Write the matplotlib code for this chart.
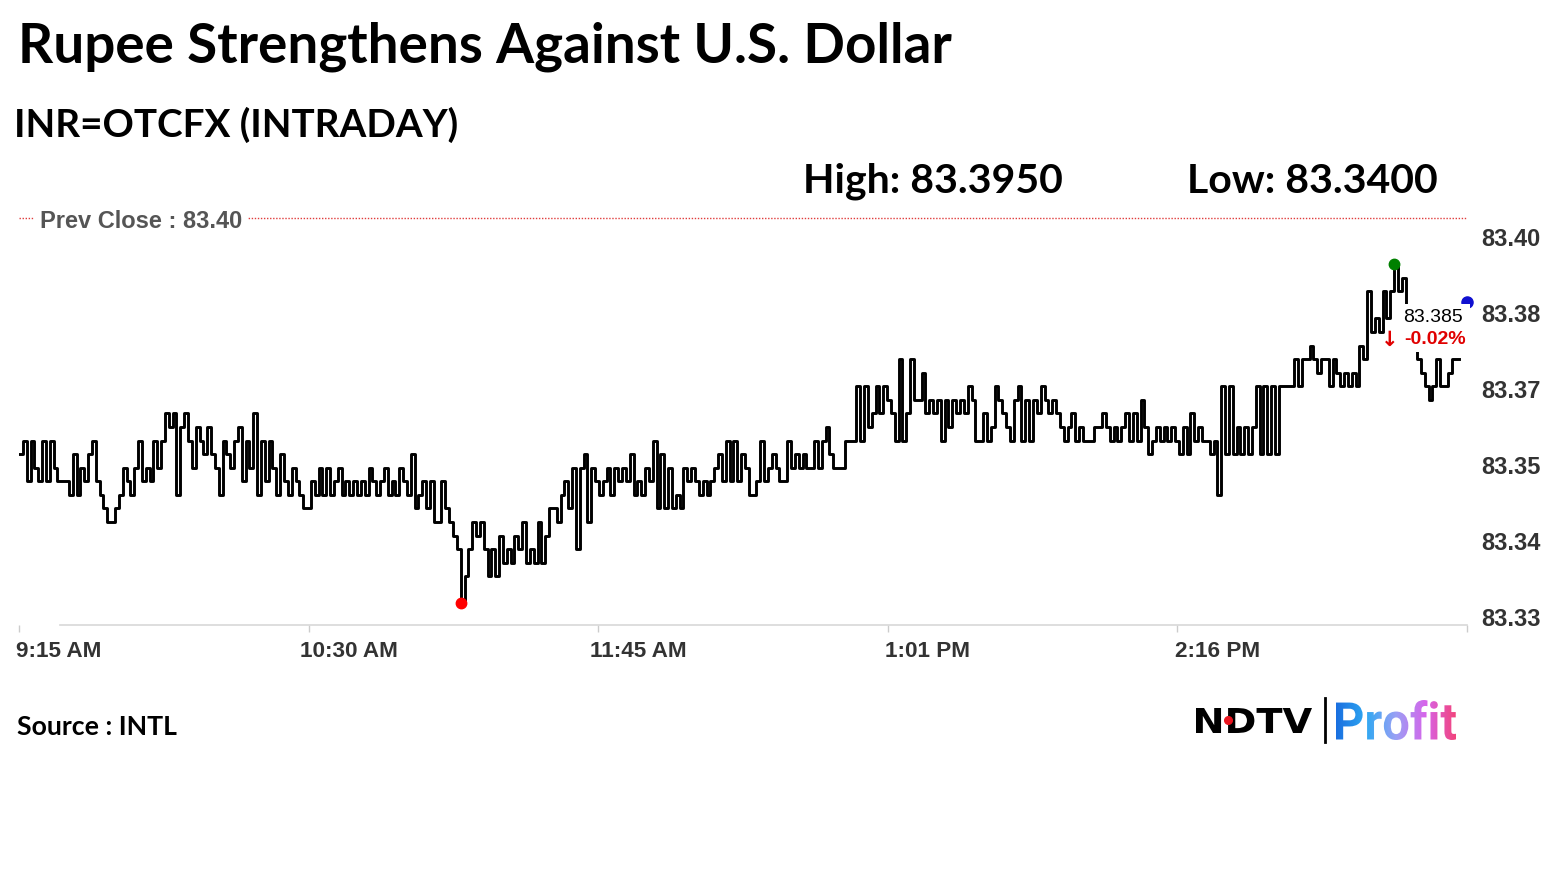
import numpy as np
import matplotlib
matplotlib.use("Agg")
import matplotlib.pyplot as plt
from matplotlib.font_manager import FontProperties
from matplotlib.textpath import TextPath
from matplotlib.patches import PathPatch, Rectangle
from matplotlib.transforms import Affine2D, ScaledTranslation
from matplotlib.colors import LinearSegmentedColormap

# ---- chart data -------------------------------------------------------------
title = "Rupee Strengthens Against U.S. Dollar"
subtitle = "INR=OTCFX (INTRADAY)"
day_high = "83.3950"
day_low = "83.3400"
prev_close = "83.40"
last_price = "83.385"
change_pct = "-0.02%"
source = "Source : INTL"

x_tick_minutes = [0, 75.4, 150.8, 226.2, 301.6, 377]
x_tick_labels = ["9:15 AM", "10:30 AM", "11:45 AM", "1:01 PM", "2:16 PM", ""]
y_ticks = [83.33, 83.344, 83.358, 83.372, 83.386, 83.40]
y_tick_labels = ["83.33", "83.34", "83.35", "83.37", "83.38", "83.40"]

# INR per USD, one reading per minute from 9:15 AM
price = [
    83.36, 83.3625, 83.355, 83.3625, 83.3575, 83.355, 83.3625, 83.355, 83.3625, 83.3575,
    83.355, 83.355, 83.355, 83.3525, 83.36, 83.3525, 83.3575, 83.355, 83.36, 83.3625,
    83.355, 83.3525, 83.35, 83.3475, 83.3475, 83.35, 83.3525, 83.3575, 83.355, 83.3525,
    83.3575, 83.3625, 83.355, 83.3575, 83.355, 83.3625, 83.3575, 83.3625, 83.3675, 83.365,
    83.3675, 83.3525, 83.365, 83.3675, 83.3625, 83.3575, 83.365, 83.3625, 83.36, 83.365,
    83.36, 83.3575, 83.3525, 83.3625, 83.36, 83.3575, 83.3625, 83.365, 83.355, 83.3625,
    83.3575, 83.3675, 83.3525, 83.3625, 83.355, 83.3625, 83.3575, 83.3525, 83.36, 83.355,
    83.3525, 83.3575, 83.355, 83.3525, 83.35, 83.35,
    83.355, 83.3525, 83.3575, 83.3525,
    83.3575, 83.3525, 83.355, 83.3575, 83.3525, 83.355, 83.3525, 83.355, 83.3525, 83.355,
    83.3525, 83.3575, 83.355, 83.3525, 83.355, 83.3575, 83.3525, 83.355, 83.3525, 83.3575,
    83.355, 83.3525, 83.36, 83.35, 83.3525, 83.355, 83.35, 83.355, 83.3475, 83.3475,
    83.355, 83.35, 83.3475, 83.345, 83.3425, 83.3325, 83.3375, 83.3425, 83.3475, 83.345,
    83.3475, 83.3425, 83.3375, 83.3425, 83.3375, 83.345, 83.34, 83.3425, 83.34, 83.345,
    83.3425, 83.3475, 83.34, 83.3425, 83.34, 83.3475, 83.34, 83.345, 83.35, 83.35,
    83.3475, 83.3525, 83.355, 83.35, 83.3575, 83.3425, 83.3575, 83.36, 83.3475, 83.3575, 83.355,
    83.3525, 83.355, 83.3575, 83.3525, 83.3575, 83.355, 83.3575, 83.355, 83.36,
    83.3525, 83.355, 83.3525, 83.3575, 83.355, 83.3625, 83.35, 83.36, 83.35, 83.3575,
    83.35, 83.3525, 83.35, 83.3575, 83.355, 83.3575, 83.355, 83.3525, 83.355, 83.3525,
    83.355, 83.3575, 83.36, 83.355, 83.3625, 83.355, 83.3625, 83.355, 83.36, 83.3575,
    83.3525, 83.3525, 83.355, 83.3625, 83.355, 83.3575, 83.36, 83.3575, 83.355, 83.355,
    83.3625, 83.3575, 83.36, 83.3575, 83.36, 83.3575, 83.3575, 83.3625, 83.3575, 83.3625,
    83.365, 83.36, 83.3575, 83.3575, 83.3575, 83.3625, 83.3625, 83.3625, 83.3725, 83.3625,
    83.3725, 83.365, 83.3675, 83.3725, 83.3675, 83.3725, 83.37,
    83.3675, 83.3625, 83.3775,
    83.3625, 83.3675, 83.3775, 83.37, 83.37, 83.375, 83.3675, 83.37, 83.3675, 83.37,
    83.3625, 83.37, 83.365, 83.37, 83.3675, 83.37, 83.3675, 83.3725, 83.37, 83.3625,
    83.3625, 83.3675, 83.3625, 83.365, 83.3725, 83.37, 83.3675, 83.365, 83.3625, 83.37,
    83.3725, 83.3625, 83.37, 83.3625, 83.37, 83.3675, 83.3725, 83.37, 83.3675, 83.37,
    83.3675, 83.365, 83.3625, 83.365, 83.3675, 83.3625, 83.365, 83.3625, 83.3625, 83.3625,
    83.365, 83.365, 83.3675, 83.365, 83.3625, 83.365, 83.3625, 83.365, 83.3675, 83.3625,
    83.3675, 83.3625, 83.37, 83.365, 83.36, 83.3625, 83.365, 83.3625, 83.365, 83.3625,
    83.365, 83.3625, 83.36,
    83.365, 83.36, 83.3675, 83.3625, 83.365, 83.3625, 83.3625,
    83.36, 83.3625, 83.3525, 83.3725, 83.36, 83.3725, 83.36, 83.365, 83.36, 83.365,
    83.36, 83.365, 83.3725, 83.36, 83.3725, 83.36, 83.3725, 83.36, 83.3725, 83.3725,
    83.3725, 83.3725, 83.3775, 83.3725, 83.3775, 83.3775, 83.38, 83.3775, 83.375, 83.3775,
    83.3775, 83.3725, 83.3775, 83.375, 83.3725, 83.375, 83.3725, 83.375, 83.3725, 83.38,
    83.3775, 83.39, 83.3825, 83.385, 83.3825, 83.39, 83.385, 83.39, 83.395, 83.39,
    83.3925, 83.3875, 83.3875, 83.38, 83.3775, 83.375, 83.3725, 83.37, 83.3725, 83.3775,
    83.3725, 83.3725, 83.375, 83.3775, 83.3775, 83.3775,
]
live_minute = 377
live_price = 83.388

# ---- figure -----------------------------------------------------------------
W, H = 1555, 874
fig = plt.figure(figsize=(W / 100, H / 100), dpi=100)
fig.patch.set_facecolor("white")

head = ["Lato", "DejaVu Sans"]
tick_font = ["Liberation Sans", "DejaVu Sans"]

fig.text(18 / W, 1 - 62 / H, title, fontsize=39.4, fontweight="bold", family=head, va="baseline")
fig.text(14 / W, 1 - 137 / H, subtitle, fontsize=27.8, fontweight="bold", family=head, va="baseline")
fig.text(803 / W, 1 - 193 / H, f"High: {day_high}", fontsize=29.5, fontweight="bold", family=head, va="baseline")
fig.text(1187 / W, 1 - 193 / H, f"Low: {day_low}", fontsize=29.5, fontweight="bold", family=head, va="baseline")
fig.text(17 / W, 1 - 735 / H, source, fontsize=19.2, fontweight="bold", family=head, va="baseline")

ax = fig.add_axes([19 / W, 1 - 625 / H, 1448 / W, 407 / H])
minutes = np.arange(len(price))
ax.plot(minutes, price, color="black", lw=2.1, zorder=2, drawstyle="steps-post")
ax.set_xlim(0, 377)
ax.set_ylim(83.32853, 83.4035)

hi = int(np.argmax(price))
lo = int(np.argmin(price))
ax.plot(minutes[hi], price[hi], "o", color="green", ms=7.5, zorder=3, clip_on=False)
ax.plot(minutes[lo], price[lo], "o", color="red", ms=7.5, zorder=3, clip_on=False)
ax.plot(live_minute, live_price, "o", color="#1010d0", ms=8, zorder=3, clip_on=False)

for s in ax.spines.values():
    s.set_visible(False)
ax.plot([41 / 1448, 1], [0, 0], transform=ax.transAxes, color="#d8d8d8", lw=1.2, clip_on=False)
ax.plot([0, 1], [1, 1], transform=ax.transAxes, color="#e03c3c", lw=1, ls=(0, (1, 1.2)), clip_on=False)
ax.text(21 / 1448, 1 - 3 / 407, f"Prev Close : {prev_close}", transform=ax.transAxes, fontsize=17,
        fontweight="bold", color="#555555", family=tick_font, va="center", ha="left",
        bbox=dict(facecolor="white", edgecolor="none", pad=4))

ax.set_xticks(x_tick_minutes)
ax.set_xticklabels(x_tick_labels)
ax.tick_params(axis="x", length=5, width=1, color="#cccccc", pad=6.5, labelsize=16.2, labelcolor="#333333")
shift = ScaledTranslation(40 / 100, 0, fig.dpi_scale_trans)
for lbl in ax.get_xticklabels():
    lbl.set_ha("center")
    lbl.set_fontweight("bold")
    lbl.set_family(tick_font)
    lbl.set_transform(lbl.get_transform() + shift)

ax.yaxis.tick_right()
ax.set_yticks(y_ticks)
ax.set_yticklabels(y_tick_labels)
ax.tick_params(axis="y", length=0, pad=10, labelsize=17, labelcolor="#333333")
for lbl in ax.get_yticklabels():
    lbl.set_fontweight("bold")
    lbl.set_family(tick_font)

# ---- overlay in pixel coordinates: last-price label and logo ---------------
ov = fig.add_axes([0, 0, 1, 1], zorder=5)
ov.set_facecolor("none")
ov.axis("off")

ov.add_patch(Rectangle((1398, H - 352), 72, 48, facecolor="white", edgecolor="none", zorder=1))
ov.text(1433, H - 318, last_price, fontsize=14, family=tick_font, color="black",
        ha="center", va="center", zorder=2)
ov.text(1390, H - 340, "\u2193", fontsize=15, fontweight="bold", family=["DejaVu Sans"],
        color="#e00000", ha="center", va="center", zorder=2)
ov.text(1466, H - 340, change_pct, fontsize=14, fontweight="bold", family=tick_font,
        color="#e00000", ha="right", va="center", zorder=2)


def fit_path(text, prop, box):
    x0, x1, top, bottom = box
    tp = TextPath((0, 0), text, size=100, prop=prop)
    ext = tp.get_extents()
    tr = (Affine2D().translate(-ext.x0, -ext.y0)
          .scale((x1 - x0) / ext.width, (bottom - top) / ext.height)
          .translate(x0, H - bottom))
    return tr.transform_path(tp)


ndtv = fit_path("NDTV", FontProperties(family="DejaVu Sans", weight="bold"), (1196, 1312, 708, 733))
ov.add_patch(PathPatch(ndtv, facecolor="black", edgecolor="none", zorder=2))
ov.plot(1228, H - 720, "o", color="#e8141e", ms=5.5, zorder=3)
ov.plot([1325, 1325], [H - 698, H - 742], color="black", lw=2, zorder=2)

profit = fit_path("Profit", FontProperties(family="Roboto", weight="bold"), (1336, 1456, 700, 740))
patch = PathPatch(profit, facecolor="none", edgecolor="none", zorder=2)
ov.add_patch(patch)
cmap = LinearSegmentedColormap.from_list("profit", ["#1a6fe0", "#2fa8f2", "#9aa0f5", "#d764ea", "#f2447c"])
im = ov.imshow(np.linspace(0, 1, 256).reshape(1, -1), cmap=cmap, aspect="auto",
               extent=[1336, 1456, H - 740, H - 700], zorder=2)
im.set_clip_path(patch)

ov.set_xlim(0, W)
ov.set_ylim(0, H)

fig.savefig("out.png", dpi=100, facecolor="white")
